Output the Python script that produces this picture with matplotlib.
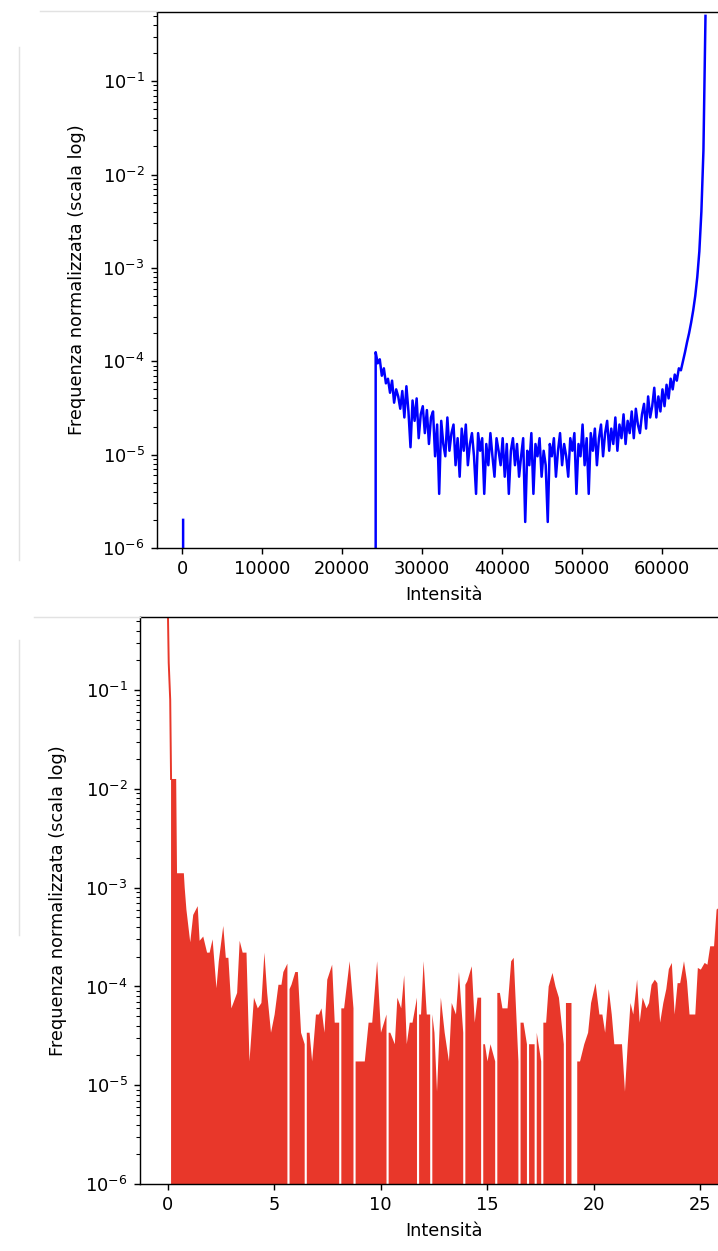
import numpy as np
import matplotlib
matplotlib.use("Agg")
import matplotlib.pyplot as plt
from matplotlib.lines import Line2D

# ---------------- 16-bit histogram (bin width 256, bin centres) ----------------
hist16_bin_width = 256
# isolated bins below the main population
hist16_low_x = [128, 384, 23936]
hist16_low_freq = [2.0e-6, 0.0, 0.0]
# main population, first bin centre and consecutive normalized frequencies
hist16_start = 24192
hist16_freq = [
    # 24192 ...
    1.25e-4, 9.5e-5, 1.05e-4, 7.0e-5, 8.4e-5, 5.8e-5, 6.5e-5, 4.6e-5,
    6.2e-5, 3.6e-5, 5.0e-5, 4.2e-5, 3.1e-5, 4.8e-5,
    # 27776 ...
    2.5e-5, 5.4e-5, 2.9e-5, 1.2e-5, 3.8e-5, 2.3e-5, 4.0e-5, 1.5e-5, 2.7e-5,
    3.3e-5, 1.7e-5, 3.0e-5, 1.3e-5, 2.5e-5, 2.9e-5, 9.6e-6, 2.1e-5, 3.8e-6,
    # 32384 ...
    2.3e-5, 1.3e-5, 9.6e-6, 2.5e-5, 1.1e-5, 1.7e-5, 2.1e-5, 7.7e-6, 1.5e-5,
    5.8e-6, 1.9e-5, 1.1e-5, 2.1e-5, 7.7e-6, 1.3e-5, 1.7e-5, 9.6e-6, 3.8e-6,
    # 36992 ...
    1.7e-5, 1.1e-5, 1.5e-5, 3.8e-6, 1.3e-5, 7.7e-6, 1.7e-5, 9.6e-6,
    5.8e-6, 1.5e-5, 1.1e-5, 7.7e-6, 1.5e-5, 5.8e-6, 1.3e-5, 3.8e-6,
    # 41088 ...
    1.1e-5, 1.5e-5, 7.7e-6, 1.3e-5, 5.8e-6, 9.6e-6, 1.5e-5, 1.9e-6, 1.1e-5,
    7.7e-6, 1.7e-5, 3.8e-6, 1.3e-5, 9.6e-6, 1.5e-5, 5.8e-6, 1.1e-5, 7.7e-6,
    1.9e-6,
    # 45952 ...
    1.3e-5, 9.6e-6, 1.5e-5, 5.8e-6, 1.1e-5, 1.7e-5, 7.7e-6, 1.3e-5, 9.6e-6,
    5.8e-6, 1.5e-5, 1.1e-5, 1.7e-5, 3.8e-6, 1.3e-5, 9.6e-6, 2.1e-5, 7.7e-6,
    1.5e-5, 3.8e-6,
    # 51072 ...
    1.7e-5, 1.1e-5, 1.9e-5, 7.7e-6, 1.5e-5, 2.1e-5, 9.6e-6, 1.7e-5, 2.3e-5,
    1.1e-5, 1.9e-5, 1.3e-5, 2.5e-5, 1.1e-5, 2.1e-5, 1.5e-5, 2.7e-5, 1.3e-5,
    2.3e-5, 1.7e-5,
    # 56192 ...
    2.9e-5, 1.5e-5, 3.1e-5, 2.1e-5, 1.7e-5, 2.7e-5, 3.5e-5, 1.9e-5, 4.2e-5,
    2.5e-5, 3.3e-5, 5.2e-5, 2.5e-5, 4.2e-5,
    # 59776 ... 65408
    2.9e-5, 5.0e-5, 3.3e-5, 5.6e-5, 4.0e-5, 6.5e-5, 5.0e-5, 7.2e-5, 6.2e-5,
    8.4e-5, 8.0e-5, 1.0e-4, 1.25e-4, 1.6e-4, 2.0e-4, 2.6e-4, 3.5e-4, 5.0e-4,
    8.0e-4, 1.5e-3, 4.0e-3, 1.8e-2, 5.0e-1,
]

# ---------------- rescaled-intensity histogram ----------------
hist_r_x = [
    0.00, 0.05, 0.12, 0.16, 0.40, 0.44, 0.76, 0.80, 0.88, 1.06, 1.20, 1.41,
    1.50, 1.67, 1.85, 1.97, 2.11, 2.29, 2.40, 2.61, 2.73, 2.85, 2.99, 3.26,
    3.38, 3.52, 3.70, 3.84, 4.05, 4.23, 4.40, 4.54, 4.67, 4.85, 5.02, 5.20,
    5.34, 5.43, 5.62, 5.67, 5.72, 5.81, 5.99, 6.11, 6.26, 6.43, 6.48, 6.53,
    6.66, 6.78, 6.96, 7.10, 7.22, 7.36, 7.49, 7.72, 7.84, 8.05, 8.10, 8.15,
    8.28, 8.54, 8.72, 8.77, 8.82, 9.25, 9.43, 9.60, 9.83, 10.01, 10.27, 10.32,
    10.37, 10.45, 10.66, 10.78, 10.96, 11.10, 11.22, 11.36, 11.49, 11.70, 11.75, 11.80,
    11.89, 12.01, 12.16, 12.32, 12.37, 12.42, 12.52, 12.64, 12.82, 13.00, 13.20, 13.33,
    13.53, 13.67, 13.87, 13.92, 13.97, 14.06, 14.27, 14.41, 14.54, 14.71, 14.76, 14.81,
    14.89, 15.01, 15.15, 15.37, 15.42, 15.47, 15.59, 15.71, 15.95, 16.12, 16.24, 16.46,
    16.51, 16.56, 16.70, 16.86, 16.91, 16.96, 17.22, 17.27, 17.32, 17.53, 17.58, 17.63,
    17.76, 17.88, 18.06, 18.20, 18.36, 18.59, 18.64, 18.69, 18.95, 19.03, 19.15, 19.22,
    19.35, 19.55, 19.73, 19.87, 20.08, 20.26, 20.40, 20.53, 20.70, 20.84, 20.96, 21.32,
    21.46, 21.59, 21.72, 21.85, 22.03, 22.15, 22.29, 22.47, 22.59, 22.71, 22.86, 22.98,
    23.11, 23.26, 23.40, 23.52, 23.66, 23.79, 23.93, 24.05, 24.23, 24.37, 24.49, 24.76,
    24.88, 25.02, 25.20, 25.33, 25.46, 25.64, 25.76, 25.95,
]
hist_r_freq = [
    0.90, 0.19, 0.08, 1.26e-2, 1.26e-2, 1.4e-3, 1.4e-3, 1.0e-3, 6.0e-4, 2.8e-4, 5.3e-4, 6.5e-4,
    2.9e-4, 3.2e-4, 2.2e-4, 2.2e-4, 3.0e-4, 9.6e-5, 1.8e-4, 4.1e-4, 1.95e-4, 1.95e-4, 6.0e-5, 8.6e-5,
    2.9e-4, 2.2e-4, 2.2e-4, 1.74e-5, 7.7e-5, 6.0e-5, 6.8e-5, 2.2e-4, 8.6e-5, 3.4e-5, 5.2e-5, 1.04e-4,
    1.04e-4, 1.4e-4, 1.7e-4, 0.0, 9.4e-5, 1.04e-4, 1.4e-4, 1.4e-4, 3.4e-5, 2.6e-5, 0.0, 3.4e-5,
    3.4e-5, 1.74e-5, 5.2e-5, 5.2e-5, 6.0e-5, 3.4e-5, 1.17e-4, 1.66e-4, 4.3e-5, 4.3e-5, 0.0, 6.0e-5,
    6.0e-5, 1.8e-4, 6.0e-5, 0.0, 1.74e-5, 1.74e-5, 4.3e-5, 4.3e-5, 1.8e-4, 3.4e-5, 5.2e-5, 0.0,
    3.4e-5, 3.4e-5, 2.6e-5, 7.7e-5, 6.0e-5, 1.3e-4, 2.6e-5, 4.3e-5, 4.3e-5, 7.7e-5, 0.0, 5.2e-5,
    5.2e-5, 1.8e-4, 5.2e-5, 5.2e-5, 0.0, 5.2e-5, 3.4e-5, 8.6e-6, 7.7e-5, 3.4e-5, 1.74e-5, 6.8e-5,
    5.2e-5, 1.4e-4, 3.4e-5, 0.0, 1.04e-4, 1.13e-4, 1.6e-4, 4.3e-5, 7.7e-5, 7.7e-5, 0.0, 2.6e-5,
    2.6e-5, 1.74e-5, 2.6e-5, 1.74e-5, 0.0, 8.6e-5, 8.6e-5, 6.0e-5, 6.0e-5, 1.8e-4, 1.95e-4, 1.74e-5,
    0.0, 4.3e-5, 4.3e-5, 2.6e-5, 0.0, 2.6e-5, 2.6e-5, 0.0, 3.4e-5, 1.74e-5, 0.0, 4.3e-5,
    4.3e-5, 1.0e-4, 1.37e-4, 1.0e-4, 7.7e-5, 2.6e-5, 0.0, 6.8e-5, 6.8e-5, 0.0, 0.0, 1.74e-5,
    1.74e-5, 2.6e-5, 3.4e-5, 6.8e-5, 1.08e-4, 5.2e-5, 5.2e-5, 3.4e-5, 9.4e-5, 5.2e-5, 2.6e-5, 2.6e-5,
    8.6e-6, 2.6e-5, 6.8e-5, 5.2e-5, 1.17e-4, 4.3e-5, 7.7e-5, 6.0e-5, 6.8e-5, 1.04e-4, 1.17e-4, 1.08e-4,
    4.3e-5, 6.8e-5, 9.4e-5, 1.5e-4, 1.73e-4, 5.2e-5, 1.08e-4, 1.08e-4, 1.8e-4, 1.13e-4, 5.2e-5, 5.2e-5,
    1.54e-4, 1.48e-4, 1.73e-4, 1.66e-4, 2.55e-4, 2.55e-4, 6.0e-4, 6.5e-4,
]
# the steep head of the profile is traced as a line, the rest is filled
head_points = 4

x_label = "Intensità"
y_label = "Frequenza normalizzata (scala log)"

DPI = 128
W, H = 718, 1251
fig = plt.figure(figsize=(W / DPI, H / DPI), dpi=DPI)
fig.patch.set_facecolor("white")


def frac_box(left, top, right, bottom):
    """Axes rectangle from pixel edges (origin at top-left)."""
    return [left / W, 1 - bottom / H, (right - left) / W, (bottom - top) / H]


# ---- upper panel: blue line ----
ax1 = fig.add_axes(frac_box(157, 12, 731.6, 548))
x16 = np.concatenate([hist16_low_x,
                      hist16_start + hist16_bin_width * np.arange(len(hist16_freq))])
f16 = np.concatenate([hist16_low_freq, hist16_freq])
ax1.plot(x16, f16, color="blue", lw=1.4)
ax1.set_yscale("log")
ax1.set_xlim(-3136, 68672)
ax1.set_ylim(1e-6, 0.55)
ax1.set_xlabel(x_label)
ax1.set_ylabel(y_label, labelpad=9)

# ---- lower panel: red filled profile ----
red = "#e8372a"
ax2 = fig.add_axes(frac_box(140, 617, 748.3, 1184))
ax2.plot(hist_r_x[:head_points], hist_r_freq[:head_points], color=red, lw=1.1)
ax2.fill_between(hist_r_x[head_points - 1:], hist_r_freq[head_points - 1:], 0,
                 color=red, lw=0)
ax2.set_yscale("log")
ax2.set_xlim(-1.2975, 27.2475)
ax2.set_ylim(1e-6, 0.55)
ax2.set_xlabel(x_label)
ax2.set_ylabel(y_label, labelpad=10)

# faint page rules around the panels
rule = dict(color="#e2e2e2", lw=0.8, transform=fig.transFigure)
fig.add_artist(Line2D([40 / W, 157 / W], [1 - 11 / H, 1 - 11 / H], **rule))
fig.add_artist(Line2D([19 / W, 19 / W], [1 - 47 / H, 1 - 560 / H], **rule))
fig.add_artist(Line2D([34 / W, 140 / W], [1 - 617 / H, 1 - 617 / H], **rule))
fig.add_artist(Line2D([19 / W, 19 / W], [1 - 640 / H, 1 - 935 / H], **rule))

fig.savefig("out.png", dpi=DPI)
